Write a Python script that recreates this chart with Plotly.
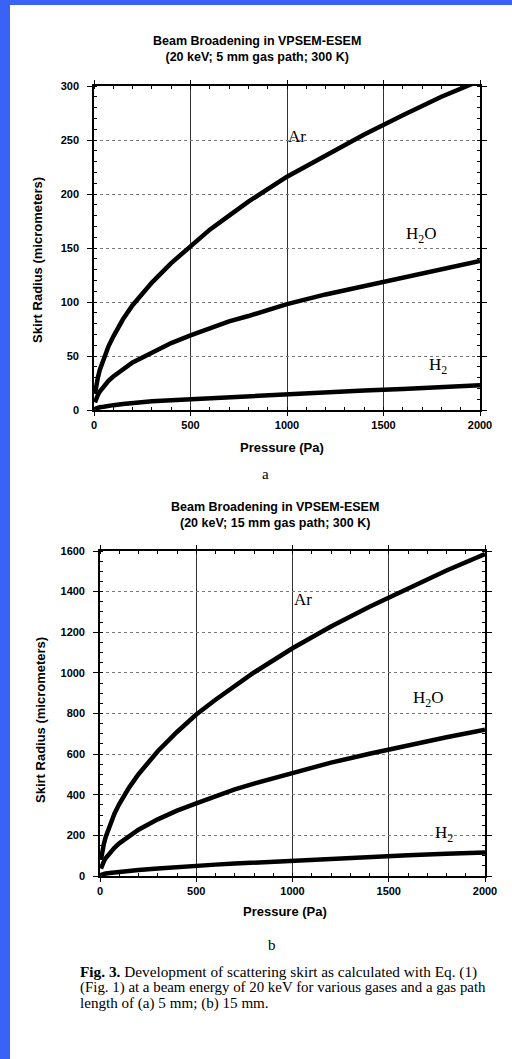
import plotly.graph_objects as go

W, H = 512, 1059

# ---- data ----
pressure = [5, 10, 20, 30, 50, 75, 100, 150, 200, 300, 400, 500, 600, 700, 800,
            1000, 1200, 1400, 1600, 1800, 2000]

ar_a = [15, 21, 30, 37, 48, 59, 68, 84, 97, 118, 136, 152, 167, 180, 193,
        216, 236, 255, 273, 290, 305]
h2o_a = [7, 10, 14, 17, 22, 27, 31, 38, 44, 53, 62, 69, 76, 82, 87,
         98, 107, 115, 123, 131, 138]
h2_a = [1, 1.5, 2, 2.5, 3, 4, 4.5, 5.5, 6.5, 8, 9, 10, 11, 12, 13,
        15, 16.5, 18, 19.5, 21, 23]

ar_b = [79, 112, 158, 194, 250, 307, 354, 434, 501, 614, 709, 795, 868, 938, 1002,
        1121, 1228, 1326, 1418, 1504, 1585]
h2o_b = [36, 51, 72, 88, 114, 139, 161, 197, 228, 279, 322, 358, 394, 426, 455,
         507, 558, 602, 644, 683, 720]
h2_b = [5, 7, 10, 12, 15, 18, 21, 26, 30, 37, 45, 51, 56, 61, 66,
        77, 86, 94, 102, 109, 116]

x_ticks = [0, 500, 1000, 1500, 2000]
y_ticks_a = [0, 50, 100, 150, 200, 250, 300]
y_ticks_b = [0, 200, 400, 600, 800, 1000, 1200, 1400, 1600]

title_a = "Beam Broadening in VPSEM-ESEM<br>(20 keV; 5 mm gas path; 300 K)"
title_b = "Beam Broadening in VPSEM-ESEM<br>(20 keV; 15 mm gas path; 300 K)"
x_title = "Pressure (Pa)"
y_title = "Skirt Radius (micrometers)"
caption = [
    "<b>Fig. 3.</b> Development of scattering skirt as calculated with Eq. (1)",
    "(Fig. 1) at a beam energy of 20 keV for various gases and a gas path",
    "length of (a) 5 mm; (b) 15 mm.",
]

def fx(p):
    return p / W

def fy(p):
    return 1 - p / H

SANS = "Liberation Sans, Arial, sans-serif"
SERIF = "Liberation Serif, Times New Roman, serif"
BLUE = "#3a62f5"

fig = go.Figure()
for ys, ax in [(ar_a, "a"), (h2o_a, "a"), (h2_a, "a"), (ar_b, "b"), (h2o_b, "b"), (h2_b, "b")]:
    fig.add_trace(go.Scatter(
        x=pressure, y=ys, mode="lines",
        line=dict(color="black", width=4.5),
        xaxis="x" if ax == "a" else "x2",
        yaxis="y" if ax == "a" else "y2",
        showlegend=False, hoverinfo="skip"))

def xax(domain, anchor):
    return dict(domain=domain, anchor=anchor, range=[0, 2000], tickvals=x_ticks,
                ticks="outside", ticklen=4, tickwidth=1.2, tickcolor="black",
                showline=True, linecolor="black", linewidth=1.6, mirror="allticks",
                showgrid=True, gridcolor="#333", gridwidth=1,
                zeroline=False, automargin=False,
                minor=dict(ticks="inside", dtick=100, ticklen=3, tickcolor="black", showgrid=False),
                tickfont=dict(family=SANS, size=11, color="black", weight="bold"))

def yax(domain, anchor, rng, tv, mdt):
    return dict(domain=domain, anchor=anchor, range=rng, tickvals=tv,
                ticks="outside", ticklen=5, tickwidth=1.2, tickcolor="black",
                showline=True, linecolor="black", linewidth=1.6, mirror="allticks",
                showgrid=True, gridcolor="#777", gridwidth=1, griddash="dot",
                zeroline=False, automargin=False, ticklabelstandoff=6,
                minor=dict(ticks="inside", dtick=mdt, ticklen=3, tickcolor="black", showgrid=False),
                tickfont=dict(family=SANS, size=11, color="black", weight="bold"))

annotations = []

def ann(text, x, y, size, family=SANS, bold=False, xanchor="center", yanchor="middle", angle=0):
    annotations.append(dict(
        text=text, x=fx(x), y=fy(y), xref="paper", yref="paper",
        showarrow=False, xanchor=xanchor, yanchor=yanchor, textangle=angle,
        font=dict(family=family, size=size, color="black", weight="bold" if bold else "normal"),
        align="center"))

# top chart texts
ann(title_a, 257, 49, 12.5, bold=True)
ann(x_title, 282, 447, 13, bold=True)
ann(y_title, 37, 260, 13, bold=True, angle=-90)
ann("a", 265, 474, 15, family=SERIF)
ann("Ar", 297, 136, 17, family=SERIF)
ann("H<sub>2</sub>O", 421, 235, 17, family=SERIF)
ann("H<sub>2</sub>", 438, 366, 17, family=SERIF)

# bottom chart texts
ann(title_b, 275, 515, 12.5, bold=True)
ann(x_title, 285, 911, 13, bold=True)
ann(y_title, 40, 720, 13, bold=True, angle=-90)
ann("b", 272, 945, 15, family=SERIF)
ann("Ar", 303, 599, 17, family=SERIF)
ann("H<sub>2</sub>O", 428, 699, 17, family=SERIF)
ann("H<sub>2</sub>", 444, 834, 17, family=SERIF)

cap_sizes = [15.3, 14.9, 15.1]
for i, line in enumerate(caption):
    ann(line, 78, 972 + 15.5 * i, cap_sizes[i], family=SERIF, xanchor="left")

fig.update_layout(
    width=W, height=H,
    margin=dict(l=0, r=0, t=0, b=0, pad=0, autoexpand=False),
    paper_bgcolor="white",
    plot_bgcolor="white",
    xaxis=xax([fx(94), fx(480)], "y"),
    yaxis=yax([fy(410), fy(86)], "x", [0, 300], y_ticks_a, 10),
    xaxis2=xax([fx(100), fx(485)], "y2"),
    yaxis2=yax([fy(876), fy(551)], "x2", [0, 1600], y_ticks_b, 50),
    annotations=annotations,
    shapes=[
        dict(type="rect", xref="paper", yref="paper", x0=0, x1=fx(10), y0=0, y1=1,
             fillcolor=BLUE, line=dict(width=0), layer="above"),
        dict(type="rect", xref="paper", yref="paper", x0=0, x1=1, y0=fy(5), y1=1,
             fillcolor=BLUE, line=dict(width=0), layer="above"),
    ],
)

fig.write_html("out.html")
